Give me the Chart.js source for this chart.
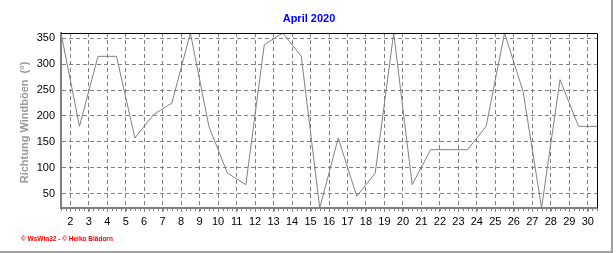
<!DOCTYPE html>
<html>
<head>
<meta charset="utf-8">
<title>April 2020</title>
<script src="https://cdn.jsdelivr.net/npm/chart.js@4.4.1/dist/chart.umd.min.js"></script>
<style>
  html, body { margin: 0; padding: 0; background: #fff; }
  #windChart { display: block; }
</style>
</head>
<body>
<canvas id="windChart" width="616" height="253"></canvas>
<script>
'use strict';

// April 2020, one value per day (degrees)
var days = [1, 2, 3, 4, 5, 6, 7, 8, 9, 10, 11, 12, 13, 14, 15,
            16, 17, 18, 19, 20, 21, 22, 23, 24, 25, 26, 27, 28, 29, 30];
var windDir = [360, 180, 315, 315, 157.5, 202.5, 225, 360, 180, 90,
               67.5, 337.5, 360, 315, 22.5, 157.5, 45, 90, 360, 67.5,
               135, 135, 135, 180, 360, 247.5, 22.5, 270, 180, 180];
var xTicks = [2, 3, 4, 5, 6, 7, 8, 9, 10, 11, 12, 13, 14, 15, 16,
              17, 18, 19, 20, 21, 22, 23, 24, 25, 26, 27, 28, 29, 30];
var yTicks = [50, 100, 150, 200, 250, 300, 350];

var chartTitle = 'April 2020';
var yTitle = 'Richtung Windböen  (°)';
var footer = '\u00a9 WsWin32 - \u00a9 Heiko Blädorn';

var gridGray = '#808080';
var tickFont = { family: '"Liberation Sans", Arial, sans-serif', size: 11 };

// each day is drawn in the middle of its day slot
var points = days.map(function (d, i) {
    return { x: d + 0.5, y: windDir[i] };
});

var framePlugin = {
    id: 'frame',
    afterDraw: function (chart) {
        var ctx = chart.ctx;
        var area = chart.chartArea;
        var xs = chart.scales.x;

        ctx.save();

        // black top / right frame
        ctx.strokeStyle = '#000';
        ctx.lineWidth = 1;
        ctx.beginPath();
        ctx.moveTo(area.left, area.top + 0.5);
        ctx.lineTo(area.right + 0.5, area.top + 0.5);
        ctx.lineTo(area.right + 0.5, area.bottom);
        ctx.stroke();

        // minor ticks (6 h) under the x axis
        ctx.strokeStyle = gridGray;
        ctx.beginPath();
        for (var t = 1.5; t <= 30.5; t += 0.25) {
            var px = Math.round(xs.getPixelForValue(t)) + 0.5;
            ctx.moveTo(px, area.bottom + 1);
            ctx.lineTo(px, area.bottom + 3);
        }
        ctx.stroke();

        // title
        ctx.fillStyle = '#0000ff';
        ctx.font = 'bold 11px "Liberation Sans", Arial, sans-serif';
        ctx.textAlign = 'center';
        ctx.textBaseline = 'middle';
        ctx.fillText(chartTitle, 309, 19);

        // y axis title
        ctx.save();
        ctx.translate(28, 122.5);
        ctx.rotate(-Math.PI / 2);
        ctx.fillStyle = '#999';
        ctx.font = 'bold 11px "Liberation Sans", Arial, sans-serif';
        ctx.textAlign = 'center';
        ctx.textBaseline = 'alphabetic';
        ctx.fillText(yTitle, 0, 0);
        ctx.restore();

        // footer
        ctx.fillStyle = '#ff0000';
        ctx.font = 'bold 6.5px "Liberation Sans", Arial, sans-serif';
        ctx.textAlign = 'left';
        ctx.textBaseline = 'middle';
        ctx.fillText(footer, 21, 239);

        // window border
        ctx.strokeStyle = '#a0a0a0';
        ctx.lineWidth = 2;
        ctx.beginPath();
        ctx.moveTo(612, 0);
        ctx.lineTo(612, 252);
        ctx.lineTo(0, 252);
        ctx.stroke();

        ctx.restore();
    }
};

var windChart = new Chart(document.getElementById('windChart'), {
    type: 'line',
    data: {
        datasets: [{
            data: points,
            borderColor: gridGray,
            borderWidth: 1,
            pointRadius: 0,
            tension: 0,
            fill: false
        }]
    },
    options: {
        responsive: false,
        animation: false,
        layout: { padding: { left: 0, top: 33, right: 19, bottom: 0 } },
        plugins: {
            legend: { display: false },
            tooltip: { enabled: false },
            title: { display: false }
        },
        scales: {
            x: {
                type: 'linear',
                min: 1.5,
                max: 30.5,
                afterBuildTicks: function (scale) {
                    scale.ticks = xTicks.map(function (v) { return { value: v }; });
                },
                afterFit: function (scale) { scale.height = 45; },
                grid: {
                    color: gridGray,
                    lineWidth: 1,
                    drawTicks: true,
                    tickLength: 4,
                    tickColor: gridGray,
                    tickBorderDash: []
                },
                border: { display: true, color: gridGray, width: 2, dash: [4, 3] },
                ticks: {
                    color: '#000',
                    font: tickFont,
                    padding: 3,
                    maxRotation: 0,
                    autoSkip: false
                }
            },
            y: {
                min: 22.5,
                max: 360,
                afterBuildTicks: function (scale) {
                    scale.ticks = yTicks.map(function (v) { return { value: v }; });
                },
                afterFit: function (scale) { scale.width = 61; },
                grid: { color: gridGray, lineWidth: 1, drawTicks: false },
                border: { display: true, color: gridGray, width: 2, dash: [4, 3] },
                ticks: {
                    color: '#000',
                    font: tickFont,
                    padding: 6
                }
            }
        }
    },
    plugins: [framePlugin]
});
</script>
</body>
</html>
